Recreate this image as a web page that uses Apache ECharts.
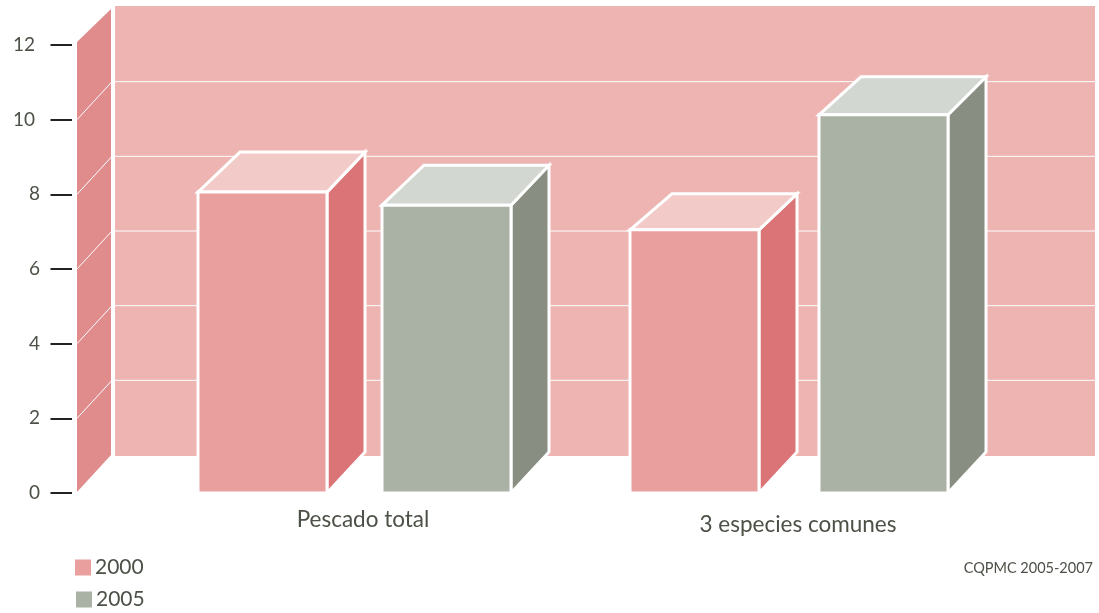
<!DOCTYPE html>
<html>
<head>
<meta charset="utf-8">
<style>html,body{margin:0;padding:0;background:#fff}#c{width:1099px;height:613px}</style>
<script src="https://cdn.jsdelivr.net/npm/echarts@6/dist/echarts.min.js"></script>
</head>
<body>
<div id="c"></div>
<script>
const categories = ['Pescado total', '3 especies comunes'];
const values2000 = [8.06, 7.05];
const values2005 = [7.71, 10.13];
const yTicks = [0, 2, 4, 6, 8, 10, 12];
const wallLines = [2, 4, 6, 8, 10];
const sourceText = 'CQPMC 2005-2007';

const FONT = 'Lato';
const TEXT = '#4b5146';
const BAR_W = 129;
const OFFS = [[-165, 19], [-168, 21]];
const DEPTH = [[40, 40], [36, 38]];
const pal = {
  p: {front: '#e89f9e', side: '#da7477', top: '#f2cbc8'},
  g: {front: '#aab1a5', side: '#888f82', top: '#d2d7d1'}
};

function barRender(key, slot) {
  return function (params, api) {
    const cat = api.value(0);
    const c = api.coord([cat, api.value(1)]);
    const base = api.coord([cat, 0])[1];
    const L = c[0] + OFFS[cat][slot], R = L + BAR_W, T = c[1];
    const d = DEPTH[cat][slot];
    const st = {stroke: '#fff', lineWidth: 3, lineJoin: 'miter'};
    const col = pal[key];
    return {type: 'group', children: [
      {type: 'polygon', shape: {points: [[R, T], [R + 38, T - d], [R + 38, base - 41], [R, base]]},
        style: Object.assign({fill: col.side}, st)},
      {type: 'polygon', shape: {points: [[L, T], [L + 42, T - d], [R + 38, T - d], [R, T]]},
        style: Object.assign({fill: col.top}, st)},
      {type: 'polygon', shape: {points: [[L, T], [R, T], [R, base], [L, base]]},
        style: Object.assign({fill: col.front}, st)}
    ]};
  };
}

function wallRender(params, api) {
  const y0 = api.coord([0, 0])[1];
  const y12 = api.coord([0, 12])[1];
  const kids = [
    {type: 'polygon', shape: {points: [[77, y0 - 1], [111, y0 - 38], [111, y12 - 36], [77, y12 - 3]]},
      style: {fill: '#e08c8d'}},
    {type: 'rect', shape: {x: 115, y: y12 - 39, width: 980, height: y0 - 37 - (y12 - 39)},
      style: {fill: '#edb4b2'}}
  ];
  wallLines.forEach(function (v) {
    const y = api.coord([0, v])[1];
    kids.push({type: 'line', shape: {x1: 115, y1: y - 38, x2: 1095, y2: y - 38},
      style: {stroke: '#fff', lineWidth: 1}});
    kids.push({type: 'line', shape: {x1: 77, y1: y, x2: 112, y2: y - 38},
      style: {stroke: '#fff', lineWidth: 1}});
  });
  return {type: 'group', children: kids};
}

const legendBase = {
  orient: 'vertical', itemWidth: 16, itemHeight: 16, icon: 'rect', selectedMode: false, padding: 0,
  textStyle: {fontFamily: FONT, fontSize: 21, color: TEXT, padding: [0, 0, 0, -1]}
};

const chart = echarts.init(document.getElementById('c'), null, {renderer: 'canvas'});
chart.setOption({
  animation: false,
  backgroundColor: '#fff',
  title: {
    text: sourceText, right: 1, top: 556,
    textStyle: {fontFamily: FONT, fontSize: 14.5, fontWeight: 'normal', color: TEXT}
  },
  legend: [
    Object.assign({data: ['2000'], left: 75, top: 557}, legendBase),
    Object.assign({data: ['2005'], left: 76, top: 589}, legendBase)
  ],
  grid: {left: 145.5, width: 870, top: 45, bottom: 120},
  xAxis: {
    type: 'category', data: categories,
    axisLine: {show: false}, axisTick: {show: false},
    axisLabel: {
      margin: 15, color: TEXT,
      formatter: function (v, i) { return i === 0 ? '{a|' + v + '}' : '{b|' + v + '}'; },
      rich: {
        a: {fontFamily: FONT, fontSize: 22.5, color: TEXT},
        b: {fontFamily: FONT, fontSize: 22.5, color: TEXT, padding: [5, 0, 0, 0]}
      }
    }
  },
  yAxis: {
    type: 'value', min: 0, max: 12, interval: 2, offset: 73.5,
    axisLine: {show: false},
    axisTick: {show: true, length: 21.5, lineStyle: {color: '#222', width: 2}},
    axisLabel: {
      margin: 32, color: TEXT,
      formatter: function (v) {
        if (yTicks.indexOf(v) < 0) return '';
        return v >= 10 ? '{w|' + v + '}' : '{n|' + v + '}';
      },
      rich: {
        n: {fontFamily: FONT, fontSize: 19, color: TEXT},
        w: {fontFamily: FONT, fontSize: 19, color: TEXT, padding: [0, 5, 0, 0]}
      }
    },
    splitLine: {show: false}
  },
  series: [
    {type: 'custom', name: 'wall', renderItem: wallRender, data: [[0, 0]], z: 1, silent: true,
      encode: {x: 0, y: 1}},
    {type: 'custom', name: '2000', renderItem: barRender('p', 0), z: 2,
      itemStyle: {color: pal.p.front}, encode: {x: 0, y: 1},
      data: values2000.map(function (v, i) { return [i, v]; })},
    {type: 'custom', name: '2005', renderItem: barRender('g', 1), z: 3,
      itemStyle: {color: pal.g.front}, encode: {x: 0, y: 1},
      data: values2005.map(function (v, i) { return [i, v]; })}
  ]
});
</script>
</body>
</html>
